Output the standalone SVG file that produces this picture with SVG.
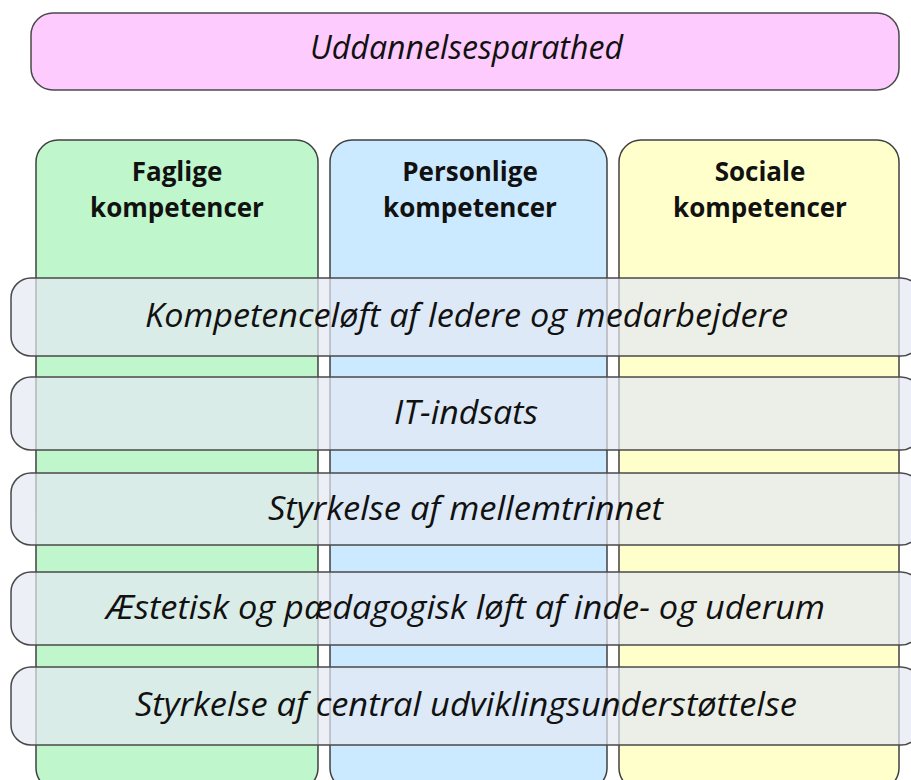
<svg xmlns="http://www.w3.org/2000/svg" width="911" height="780" viewBox="0 0 911 780">
  <style>
    .col { stroke: #404040; stroke-width: 1.5; }
    .band { fill: #e4e8f2; fill-opacity: 0.7; stroke: #4a4a4a; stroke-width: 1.5; }
    .it { font-family: "Open Sans", "Liberation Sans", sans-serif; font-style: italic; font-size: 33px; fill: #111111; }
    .hd { font-family: "Open Sans", "Liberation Sans", sans-serif; font-weight: bold; font-size: 26px; fill: #111111; text-anchor: middle; }
  </style>
  <rect x="0" y="0" width="911" height="780" fill="#ffffff"/>

  <g id="top">
    <rect x="31" y="13" width="868" height="77" rx="22" ry="22" fill="#fdcbfd" stroke="#4a4a4a" stroke-width="1.5"/>
    <text class="it" x="310" y="59" textLength="313" lengthAdjust="spacingAndGlyphs">Uddannelsesparathed</text>
  </g>

  <g id="col-faglige">
    <rect class="col" x="36" y="140" width="282" height="650" rx="22" ry="22" fill="#c0f6cc"/>
    <text class="hd" x="177" y="181">Faglige</text>
    <text class="hd" x="177" y="217">kompetencer</text>
  </g>
  <g id="col-personlige">
    <rect class="col" x="330" y="140" width="277" height="650" rx="22" ry="22" fill="#cceaff"/>
    <text class="hd" x="470" y="181">Personlige</text>
    <text class="hd" x="470" y="217">kompetencer</text>
  </g>
  <g id="col-sociale">
    <rect class="col" x="619" y="140" width="280" height="650" rx="22" ry="22" fill="#ffffcc"/>
    <text class="hd" x="760" y="181">Sociale</text>
    <text class="hd" x="760" y="217">kompetencer</text>
  </g>

  <g id="band-1">
    <rect class="band" x="11" y="278" width="910" height="78" rx="20" ry="20"/>
    <text class="it" x="145" y="327" textLength="643" lengthAdjust="spacingAndGlyphs">Kompetenceløft af ledere og medarbejdere</text>
  </g>
  <g id="band-2">
    <rect class="band" x="11" y="377" width="910" height="73" rx="20" ry="20"/>
    <text class="it" x="394" y="424" textLength="144" lengthAdjust="spacingAndGlyphs">IT-indsats</text>
  </g>
  <g id="band-3">
    <rect class="band" x="11" y="473" width="910" height="72" rx="20" ry="20"/>
    <text class="it" x="268" y="520" textLength="395" lengthAdjust="spacingAndGlyphs">Styrkelse af mellemtrinnet</text>
  </g>
  <g id="band-4">
    <rect class="band" x="11" y="572" width="910" height="73" rx="20" ry="20"/>
    <text class="it" x="106" y="619" textLength="719" lengthAdjust="spacingAndGlyphs">Æstetisk og pædagogisk løft af inde- og uderum</text>
  </g>
  <g id="band-5">
    <rect class="band" x="11" y="667" width="910" height="78" rx="20" ry="20"/>
    <text class="it" x="135" y="716" textLength="662" lengthAdjust="spacingAndGlyphs">Styrkelse af central udviklingsunderstøttelse</text>
  </g>

  <g id="connectors"/>
</svg>
